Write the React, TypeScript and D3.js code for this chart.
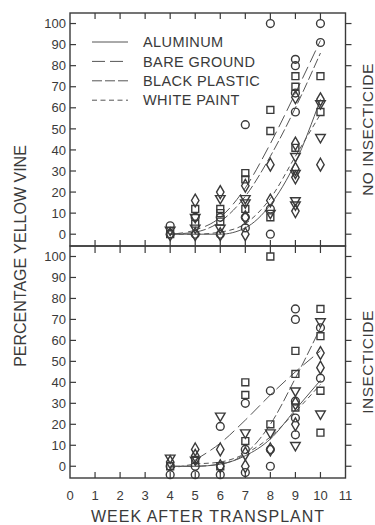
import * as d3 from "d3";

// weeks after transplant where plants were rated
const weeks = [4, 5, 6, 7, 8, 9, 10];
const xTicks = [0, 1, 2, 3, 4, 5, 6, 7, 8, 9, 10, 11];
const yTicks = [0, 10, 20, 30, 40, 50, 60, 70, 80, 90, 100];
const treatments = ["ALUMINUM", "BARE GROUND", "BLACK PLASTIC", "WHITE PAINT"];

// observed % yellow vine, no insecticide (one inner list per week)
const noInsAluminum = [[0], [16, 0], [20, 0], [23, 8, 0], [33, 16], [65, 43, 31, 27, 11], [64, 33]];
const noInsBare = [[0, 4], [8, 0], [8, 0], [52, 8, 3], [100, 0, 12], [83, 80, 67, 58], [100, 91]];
const noInsPlastic = [[0], [12, 5], [12, 10, 6], [29, 26, 12], [59, 49, 8], [75, 70, 41], [75, 58]];
const noInsWhite = [[2], [3, 8], [17, 3], [17, 15], [10], [37, 29, 16, 14], [46, 62]];

// observed % yellow vine, insecticide
const insAluminum = [[2], [8, 5], [8, 0], [6, 0], [8], [20, 30], [54, 47]];
const insBare = [[-4, 0], [-4, 0], [19, -4], [30, 8, -3], [36, 8, 0], [75, 70, 31, 23, 15], [66, 42]];
const insPlastic = [[0], [3], [0], [40, 34, 12], [100, 20], [55, 44, 28], [75, 62, 36, 16]];
const insWhite = [[4], [3], [24], [16], [16], [36, 10], [69, 25]];

// fitted curves, value per week (null = not drawn)
const noInsAluminumFit = [0, 0, 0, 3, 14, 34, 64];
const noInsBareFit = [0, 2, 8, 22, 43, 67, 92];
const noInsPlasticFit = [0, 1, 6, 18, 37, 60, 86];
const noInsWhiteFit = [0, 0, 1, 5, 17, 37, 57];

const insAluminumFit = [0, 0, 1, 5, 13, 27, 41];
const insBareFit = [null, 3, 11, 22, 34, 45, 55];
const insPlasticFit = [0, 0, 1, 6, 20, 42, 66];
const insWhiteFit = [-1, 1, 2, 6, 14, 26, 39];

const INK = "#3a3a3a";
const FONT = "Liberation Sans, Arial, sans-serif";
const dashes = ["none", "13,5", "10,3", "5,3.5"];
const symbols = [d3.symbolDiamond, d3.symbolCircle, d3.symbolSquare, d3.symbolTriangle];
const symbolSize = [48, 48, 48, 40];

const x = d3.scaleLinear().domain([0, 11]).range([70, 345.5]);
const x0 = x(0);
const x1 = x(11);

const panels = [
  {
    label: "NO INSECTICIDE",
    top: 13,
    bottom: 246,
    obs: [noInsAluminum, noInsBare, noInsPlastic, noInsWhite],
    fit: [noInsAluminumFit, noInsBareFit, noInsPlasticFit, noInsWhiteFit],
  },
  {
    label: "INSECTICIDE",
    top: 246,
    bottom: 478,
    obs: [insAluminum, insBare, insPlastic, insWhite],
    fit: [insAluminumFit, insBareFit, insPlasticFit, insWhiteFit],
  },
];

function Panel({ p, idx }: { p: (typeof panels)[number]; idx: number }) {
  const y = d3.scaleLinear().domain([-5.6, 105]).range([p.bottom, p.top]);
  const line = d3
    .line<number | null>()
    .defined((d) => d !== null)
    .x((_, i) => x(weeks[i]))
    .y((d) => y(d as number))
    .curve(d3.curveMonotoneX);
  const midY = (p.top + p.bottom) / 2;

  return (
    <g>
      {/* y ticks and labels */}
      {yTicks.map((t) => (
        <g key={t}>
          <line x1={x0} x2={x0 + 6} y1={y(t)} y2={y(t)} stroke={INK} strokeWidth={1.2} />
          <line x1={x1} x2={x1 + 6} y1={y(t)} y2={y(t)} stroke={INK} strokeWidth={1.2} />
          <text x={x0 - 4} y={y(t)} dy="0.36em" textAnchor="end" fontSize={13} fill={INK}>
            {t}
          </text>
        </g>
      ))}
      {/* x ticks */}
      {xTicks.slice(1, -1).map((t) => (
        <g key={t}>
          {idx === 0 ? (
            <line x1={x(t)} x2={x(t)} y1={p.top} y2={p.top + 6} stroke={INK} strokeWidth={1.2} />
          ) : (
            <line x1={x(t)} x2={x(t)} y1={p.bottom - 6} y2={p.bottom} stroke={INK} strokeWidth={1.2} />
          )}
          {idx === 0 && (
            <line x1={x(t)} x2={x(t)} y1={p.bottom - 6} y2={p.bottom + 7} stroke={INK} strokeWidth={1.2} />
          )}
        </g>
      ))}
      {/* fitted curves */}
      {p.fit.map((f, i) => (
        <path
          key={i}
          d={line(f) ?? ""}
          fill="none"
          stroke="#555"
          strokeWidth={1}
          strokeDasharray={dashes[i]}
        />
      ))}
      {/* observations */}
      {p.obs.map((series, i) =>
        series.flatMap((vals, w) =>
          vals.map((v, k) => (
            <path
              key={`${i}-${w}-${k}`}
              d={d3.symbol(symbols[i], symbolSize[i])() ?? ""}
              transform={`translate(${x(weeks[w])},${y(v)})${i === 3 ? " rotate(180)" : ""}`}
              fill="none"
              stroke={INK}
              strokeWidth={1.4}
            />
          ))
        )
      )}
      <rect
        x={x0}
        y={p.top}
        width={x1 - x0}
        height={p.bottom - p.top}
        fill="none"
        stroke={INK}
        strokeWidth={1.4}
      />
      <text
        transform={`translate(367,${midY}) rotate(-90)`}
        textAnchor="middle"
        dy="0.36em"
        fontSize={15.5}
        letterSpacing={0.5}
        fill={INK}
      >
        {p.label}
      </text>
    </g>
  );
}

export default function App() {
  return (
    <svg
      width={375}
      height={525}
      style={{ position: "absolute", left: 0, top: 0, background: "#fff" }}
      fontFamily={FONT}
    >
      {panels.map((p, i) => (
        <Panel key={p.label} p={p} idx={i} />
      ))}
      {/* legend */}
      {treatments.map((t, i) => (
        <g key={t} transform={`translate(0,${42 + i * 19.4})`}>
          <line x1={92} x2={128} y1={0} y2={0} stroke="#555" strokeWidth={1} strokeDasharray={dashes[i]} />
          <text x={143} y={0} dy="0.36em" fontSize={14.5} letterSpacing={0.4} fill={INK}>
            {t}
          </text>
        </g>
      ))}
      {/* x axis labels */}
      {xTicks.map((t) => (
        <text key={t} x={x(t)} y={495} dy="0.36em" textAnchor="middle" fontSize={13} fill={INK}>
          {t}
        </text>
      ))}
      <text x={208} y={516} dy="0.36em" textAnchor="middle" fontSize={16} letterSpacing={1} fill={INK}>
        WEEK AFTER TRANSPLANT
      </text>
      <text
        transform="translate(20,256) rotate(-90)"
        textAnchor="middle"
        dy="0.36em"
        fontSize={16}
        fill={INK}
      >
        PERCENTAGE YELLOW VINE
      </text>
    </svg>
  );
}
